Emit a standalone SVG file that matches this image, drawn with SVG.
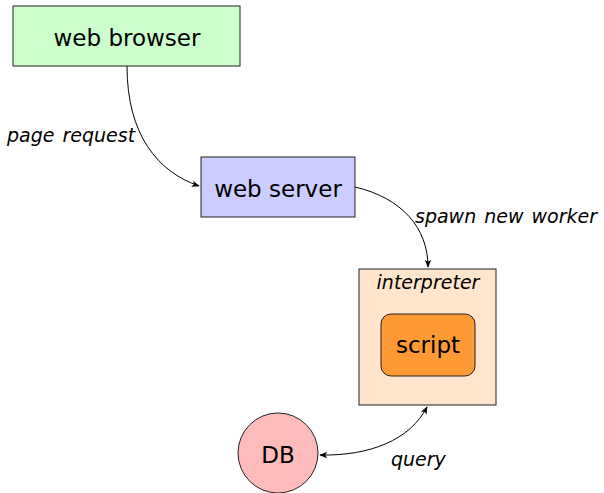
<svg xmlns="http://www.w3.org/2000/svg" width="604" height="493" viewBox="0 0 604 493">
  <style>
    .box { stroke: #222; stroke-width: 1; }
    .lbl { font-family: "DejaVu Sans", "Liberation Sans", sans-serif; fill: #000; text-anchor: middle; font-size: 23px; }
    .edge { fill: none; stroke: #000; stroke-width: 1; }
    .elbl { font-family: "DejaVu Sans", "Liberation Sans", sans-serif; font-style: italic; font-size: 19px; word-spacing: 2px; fill: #000; }
  </style>
  <defs>
    <marker id="arrow" viewBox="0 0 10 10" refX="9" refY="5" markerWidth="8" markerHeight="8" markerUnits="userSpaceOnUse" orient="auto-start-reverse">
      <path d="M0,1 L10,5 L0,9 L2.5,5 Z" fill="#000"/>
    </marker>
  </defs>
  <rect width="604" height="493" fill="#fff"/>

  <g id="connectors">
    <path class="edge" d="M127,66 C127,135 158,172 199,186" marker-end="url(#arrow)"/>
    <path class="edge" d="M355,187 C402,198 428,228 428,267" marker-end="url(#arrow)"/>
    <path class="edge" d="M320,455 C370,456 410,440 427,407" marker-start="url(#arrow)" marker-end="url(#arrow)"/>
    <text class="elbl" x="7" y="142">page request</text>
    <text class="elbl" x="415" y="223">spawn new worker</text>
    <text class="elbl" x="391" y="466">query</text>
  </g>

  <g id="web-browser">
    <rect class="box" x="13" y="6" width="227" height="60" fill="#ccffcc"/>
    <text class="lbl" x="127" y="46">web browser</text>
  </g>

  <g id="web-server">
    <rect class="box" x="201" y="157" width="154" height="60" fill="#ccccff"/>
    <text class="lbl" x="278" y="197">web server</text>
  </g>

  <g id="interpreter">
    <rect class="box" x="359" y="269" width="137" height="136" fill="#ffe5cc"/>
    <text class="elbl" x="428" y="289" text-anchor="middle">interpreter</text>
  </g>

  <g id="script">
    <rect class="box" x="381" y="314" width="94" height="62" rx="10" fill="#ff9933"/>
    <text class="lbl" x="428" y="353">script</text>
  </g>

  <g id="db">
    <circle class="box" cx="278" cy="453" r="40" fill="#ffbbbb"/>
    <text class="lbl" x="278" y="463">DB</text>
  </g>
</svg>
